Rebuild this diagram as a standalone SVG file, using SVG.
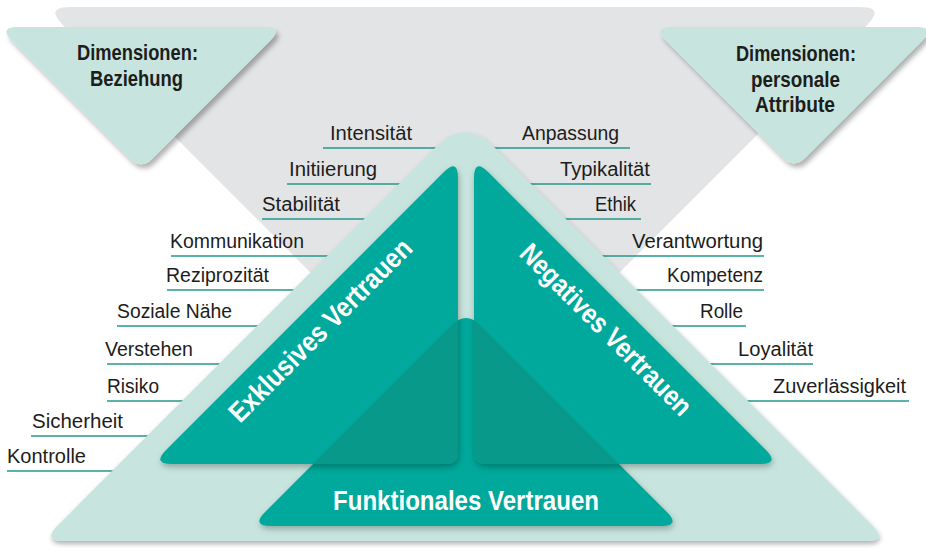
<svg xmlns="http://www.w3.org/2000/svg" width="926" height="548" viewBox="0 0 926 548">
<defs>
<style>
.lbl{font-family:"Liberation Sans Narrow","Liberation Sans",Arial,sans-serif;font-size:20px;fill:#1d1d1b}
.dim{font-family:"Liberation Sans Narrow","Liberation Sans",Arial,sans-serif;font-size:22px;font-weight:bold;fill:#1d1d1b}
.big{font-family:"Liberation Sans Narrow","Liberation Sans",Arial,sans-serif;font-size:28px;font-weight:bold;fill:#ffffff}
.ln{stroke:#23998b;stroke-width:1.6;fill:none}
.teal{fill:#00a99b}
.ovl{fill:#08998b}
.light{fill:#c7e5de}
</style>
<filter id="shDim" x="-10%" y="-10%" width="130%" height="130%">
<feDropShadow dx="3" dy="4" stdDeviation="2.5" flood-color="#000" flood-opacity="0.3"/>
</filter>
<filter id="shTeal" x="-10%" y="-10%" width="130%" height="130%">
<feDropShadow dx="1" dy="3" stdDeviation="3" flood-color="#000" flood-opacity="0.28"/>
</filter>
<filter id="shLight" x="-10%" y="-10%" width="130%" height="130%">
<feDropShadow dx="1" dy="3" stdDeviation="2.5" flood-color="#000" flood-opacity="0.3"/>
</filter>
<clipPath id="clipL"><path d="M443.9,172.1 L166.1,449.9 Q152,464 172,464 L446,464 Q458,464 458,452 L458,178 Q458,158 443.9,172.1 Z"/></clipPath>
<clipPath id="clipR"><path d="M488.1,172.1 L765.9,449.9 Q780,464 760,464 L486,464 Q474,464 474,452 L474,178 Q474,158 488.1,172.1 Z"/></clipPath>
</defs>
<rect width="926" height="548" fill="#ffffff"/>
<g id="background">
<path d="M70,7 L860,7 Q885,7 867.3,24.7 L479.1,412.9 Q465,427 450.9,412.9 L62.7,24.7 Q45,7 70,7 Z" fill="#e3e4e5"/>
</g>
<g id="dim-beziehung">
<path class="light" filter="url(#shDim)" d="M18,27 L264,27 Q284,27 269.9,41.1 L152.3,158.7 Q141,170 129.7,158.7 L12.1,41.1 Q-2,27 18,27 Z"/>
<text class="dim" x="77" y="60" textLength="121" lengthAdjust="spacingAndGlyphs">Dimensionen:</text>
<text class="dim" x="90" y="86" textLength="93" lengthAdjust="spacingAndGlyphs">Beziehung</text>
</g>
<g id="dim-personale">
<path class="light" filter="url(#shDim)" d="M672,27 L916,27 Q936,27 921.9,41.1 L805.3,157.7 Q794,169 782.7,157.7 L666.1,41.1 Q652,27 672,27 Z"/>
<text class="dim" x="736" y="61" textLength="120" lengthAdjust="spacingAndGlyphs">Dimensionen:</text>
<text class="dim" x="751" y="87" textLength="89" lengthAdjust="spacingAndGlyphs">personale</text>
<text class="dim" x="755" y="112" textLength="80" lengthAdjust="spacingAndGlyphs">Attribute</text>
</g>
<g id="connectors">
<line class="ln" x1="323" y1="148" x2="436" y2="148"/>
<line class="ln" x1="287" y1="184" x2="400" y2="184"/>
<line class="ln" x1="262" y1="219" x2="365" y2="219"/>
<line class="ln" x1="171" y1="256" x2="328" y2="256"/>
<line class="ln" x1="167" y1="290" x2="294" y2="290"/>
<line class="ln" x1="117" y1="326" x2="258" y2="326"/>
<line class="ln" x1="107" y1="364" x2="220" y2="364"/>
<line class="ln" x1="107" y1="401" x2="183" y2="401"/>
<line class="ln" x1="31" y1="436" x2="148" y2="436"/>
<line class="ln" x1="7" y1="471" x2="113" y2="471"/>
<line class="ln" x1="494" y1="148" x2="630" y2="148"/>
<line class="ln" x1="530" y1="184" x2="651" y2="184"/>
<line class="ln" x1="565" y1="219" x2="641" y2="219"/>
<line class="ln" x1="602" y1="256" x2="764" y2="256"/>
<line class="ln" x1="636" y1="290" x2="764" y2="290"/>
<line class="ln" x1="672" y1="326" x2="746" y2="326"/>
<line class="ln" x1="710" y1="364" x2="813" y2="364"/>
<line class="ln" x1="747" y1="401" x2="909" y2="401"/>
</g>
<g id="labels-beziehung">
<text class="lbl" x="330" y="140" textLength="82" lengthAdjust="spacingAndGlyphs">Intensität</text>
<text class="lbl" x="289" y="176" textLength="88" lengthAdjust="spacingAndGlyphs">Initiierung</text>
<text class="lbl" x="262" y="211" textLength="78" lengthAdjust="spacingAndGlyphs">Stabilität</text>
<text class="lbl" x="170" y="248" textLength="134" lengthAdjust="spacingAndGlyphs">Kommunikation</text>
<text class="lbl" x="166" y="282" textLength="103" lengthAdjust="spacingAndGlyphs">Reziprozität</text>
<text class="lbl" x="117" y="318" textLength="115" lengthAdjust="spacingAndGlyphs">Soziale Nähe</text>
<text class="lbl" x="105" y="356" textLength="88" lengthAdjust="spacingAndGlyphs">Verstehen</text>
<text class="lbl" x="107" y="393" textLength="52" lengthAdjust="spacingAndGlyphs">Risiko</text>
<text class="lbl" x="32" y="428" textLength="91" lengthAdjust="spacingAndGlyphs">Sicherheit</text>
<text class="lbl" x="7" y="463" textLength="79" lengthAdjust="spacingAndGlyphs">Kontrolle</text>
</g>
<g id="labels-personale">
<text class="lbl" x="522" y="140" textLength="97" lengthAdjust="spacingAndGlyphs">Anpassung</text>
<text class="lbl" x="560" y="176" textLength="90" lengthAdjust="spacingAndGlyphs">Typikalität</text>
<text class="lbl" x="595" y="211" textLength="41" lengthAdjust="spacingAndGlyphs">Ethik</text>
<text class="lbl" x="632" y="248" textLength="131" lengthAdjust="spacingAndGlyphs">Verantwortung</text>
<text class="lbl" x="667" y="282" textLength="96" lengthAdjust="spacingAndGlyphs">Kompetenz</text>
<text class="lbl" x="700" y="318" textLength="43" lengthAdjust="spacingAndGlyphs">Rolle</text>
<text class="lbl" x="738" y="356" textLength="75" lengthAdjust="spacingAndGlyphs">Loyalität</text>
<text class="lbl" x="773" y="393" textLength="133" lengthAdjust="spacingAndGlyphs">Zuverlässigkeit</text>
</g>
<g id="vertrauen-basis">
<path class="light" filter="url(#shLight)" d="M64,541 L866,541 Q888,541 872.4,525.4 L493.3,146.3 Q465,118 436.7,146.3 L57.6,525.4 Q42,541 64,541 Z"/>
</g>
<g id="funktionales-vertrauen">
<path class="teal" filter="url(#shTeal)" d="M271,526 L661,526 Q681,526 666.9,511.9 L480.1,325.1 Q466,311 451.9,325.1 L265.1,511.9 Q251,526 271,526 Z"/>
</g>
<g id="exklusives-vertrauen">
<path class="teal" filter="url(#shTeal)" d="M443.9,172.1 L166.1,449.9 Q152,464 172,464 L446,464 Q458,464 458,452 L458,178 Q458,158 443.9,172.1 Z"/>
<path class="ovl" clip-path="url(#clipL)" d="M271,526 L661,526 Q681,526 666.9,511.9 L480.1,325.1 Q466,311 451.9,325.1 L265.1,511.9 Q251,526 271,526 Z"/>
<text class="big" x="240" y="424" transform="rotate(-45 240 424)" textLength="246" lengthAdjust="spacingAndGlyphs">Exklusives Vertrauen</text>
</g>
<g id="negatives-vertrauen">
<path class="teal" filter="url(#shTeal)" d="M488.1,172.1 L765.9,449.9 Q780,464 760,464 L486,464 Q474,464 474,452 L474,178 Q474,158 488.1,172.1 Z"/>
<path class="ovl" clip-path="url(#clipR)" d="M271,526 L661,526 Q681,526 666.9,511.9 L480.1,325.1 Q466,311 451.9,325.1 L265.1,511.9 Q251,526 271,526 Z"/>
<text class="big" x="518" y="255" transform="rotate(45 518 255)" textLength="230" lengthAdjust="spacingAndGlyphs">Negatives Vertrauen</text>
</g>
<g id="funktionales-label">
<text class="big" x="333" y="510" textLength="266" lengthAdjust="spacingAndGlyphs" style="font-size:27px">Funktionales Vertrauen</text>
</g>
</svg>
